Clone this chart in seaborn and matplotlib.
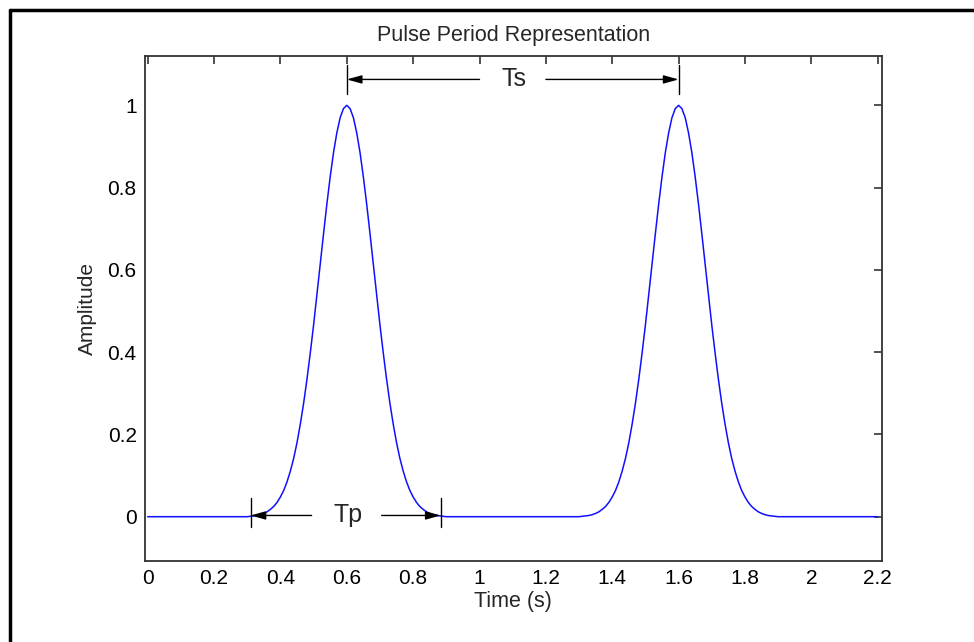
import numpy as np
import pandas as pd
import seaborn as sns
import matplotlib.pyplot as plt
from matplotlib.lines import Line2D

# pulse shape, one value every 0.01 s from -0.30 to 0.30 s
# around the pulse centre (symmetric, so only the right half is listed)
half_amp = [1.000, 0.992, 0.970, 0.933, 0.885, 0.826, 0.760, 0.688, 0.614, 0.540,
            0.466, 0.398, 0.334, 0.276, 0.225, 0.180, 0.142, 0.111, 0.085, 0.064,
            0.048, 0.035, 0.025, 0.018, 0.012, 0.008, 0.005, 0.003, 0.002, 0.001,
            0.000]
pulse_centres = [0.6, 1.6]
t_start, t_end = 0.0, 2.2

offsets = np.round(np.arange(-30, 31) / 100, 2)
pulse_amp = half_amp[::-1] + half_amp[1:]

times = [t_start]
amps = [0.0]
for c in pulse_centres:
    times += list(np.round(c + offsets, 2))
    amps += pulse_amp
times.append(t_end)
amps.append(0.0)
df = pd.DataFrame({"time": times, "amplitude": amps})

sns.set_style("white")
plt.rcParams["font.family"] = ["Liberation Sans", "DejaVu Sans"]

fig = plt.figure(figsize=(9.74, 6.42), dpi=100)
ax = fig.add_axes([0.1489, 0.1266, 0.9052 - 0.1489, 0.9128 - 0.1266])

sns.lineplot(data=df, x="time", y="amplitude", color="#1010ff", lw=1.1,
             ax=ax, sort=False, estimator=None)

ax.set_xlim(-0.008, 2.212)
ax.set_ylim(-0.107, 1.12)
ax.set_xticks(np.round(np.arange(0, 2.21, 0.2), 1))
ax.set_xticklabels(["0", "0.2", "0.4", "0.6", "0.8", "1", "1.2", "1.4", "1.6", "1.8", "2", "2.2"])
ax.set_yticks([0, 0.2, 0.4, 0.6, 0.8, 1])
ax.set_yticklabels(["0", "0.2", "0.4", "0.6", "0.8", "1"])
ax.tick_params(direction="in", length=6, width=1.2, top=True, right=True,
               labelsize=15, colors="#333333", labelcolor="black", pad=6)
for s in ax.spines.values():
    s.set_color("#333333")
    s.set_linewidth(1.3)

ax.set_title("Pulse Period Representation", fontsize=15.5, pad=11)
ax.set_xlabel("Time (s)", fontsize=15.5, labelpad=2)
ax.set_ylabel("Amplitude", fontsize=15, labelpad=8)

# Ts marker
arrow = dict(arrowstyle="-|>,head_length=0.9,head_width=0.25", color="black",
             lw=1.0, shrinkA=0, shrinkB=0)
ts_y = 1.063
for xv in pulse_centres:
    ax.plot([xv, xv], [1.027, 1.098], color="black", lw=1.0)
ax.annotate("", xy=(0.6, ts_y), xytext=(1.0, ts_y), arrowprops=arrow)
ax.annotate("", xy=(1.6, ts_y), xytext=(1.2, ts_y), arrowprops=arrow)
ax.text(1.105, ts_y, "Ts", fontsize=18, ha="center", va="center")

# Tp marker
tp_l, tp_r, tp_y = 0.31, 0.883, 0.003
for xv in [tp_l, tp_r]:
    ax.plot([xv, xv], [-0.026, 0.045], color="black", lw=1.0)
ax.annotate("", xy=(tp_l, tp_y), xytext=(0.494, tp_y), arrowprops=arrow)
ax.annotate("", xy=(tp_r, tp_y), xytext=(0.705, tp_y), arrowprops=arrow)
ax.text(0.605, tp_y, "Tp", fontsize=18, ha="center", va="center")

# frame lines on the top and left of the picture
fig.add_artist(Line2D([9.5 / 974, 9.5 / 974], [0, 1 - 9.5 / 642], color="black",
                      lw=2.5, transform=fig.transFigure))
fig.add_artist(Line2D([9.5 / 974, 1], [1 - 9.5 / 642, 1 - 9.5 / 642], color="black",
                      lw=2.5, transform=fig.transFigure))

fig.savefig("out.png", dpi=100)
